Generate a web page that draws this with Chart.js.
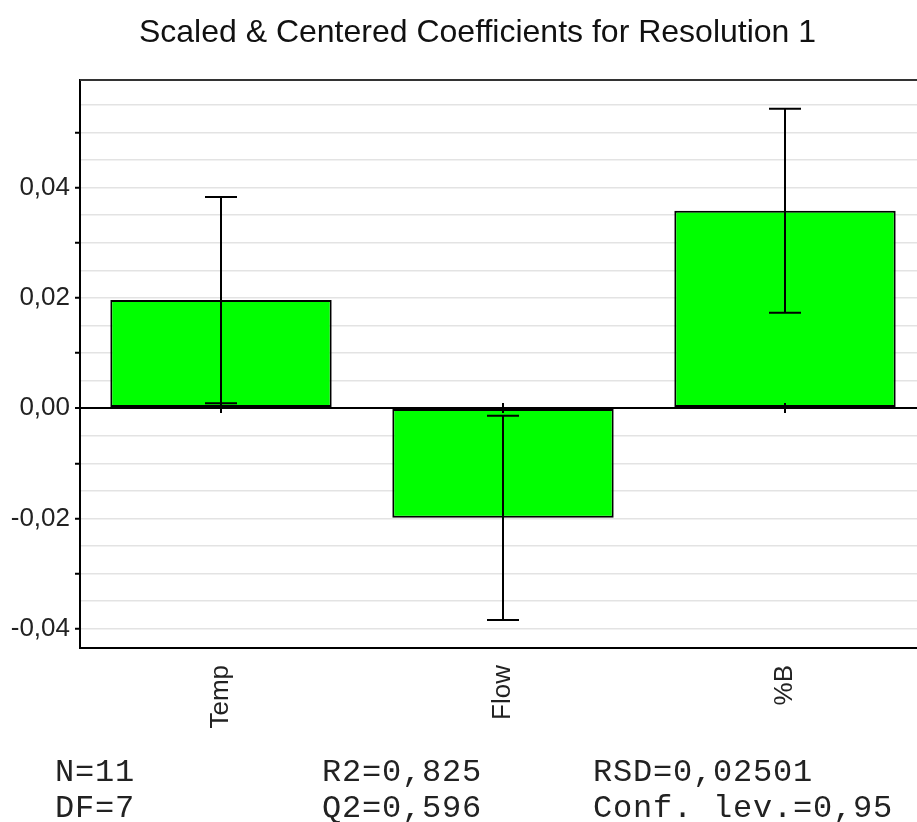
<!DOCTYPE html>
<html>
<head>
<meta charset="utf-8">
<script src="https://cdn.jsdelivr.net/npm/chart.js@4/dist/chart.umd.min.js"></script>
<style>
  html, body { margin: 0; padding: 0; background: #fff; overflow: hidden; }
  #wrap { width: 926px; height: 822px; }
</style>
</head>
<body>
<div id="wrap"><canvas id="chart" width="926" height="822"></canvas></div>
<script>
const factors = ["Temp", "Flow", "%B"];
const coefficients = [0.0196, -0.0199, 0.0358];
const confInt = [0.0187, 0.0185, 0.0185];

const yMin = -0.0435, yMax = 0.0595;

const statsRow1 = ["N=11", "R2=0,825", "RSD=0,02501"];
const statsRow2 = ["DF=7", "Q2=0,596", "Conf. lev.=0,95"];

function isStep(v, step) {
  const r = Math.round(v * 10000) / (step * 10000);
  return Math.abs(r - Math.round(r)) < 1e-6;
}

function fmt(v) {
  if (Math.abs(v) < 1e-9) v = 0;
  return v.toFixed(2).replace(".", ",");
}

// error bars + little ticks on the zero line
const errorBars = {
  id: "errorBars",
  beforeDraw(chart) {
    // the title is centred a bit right of the canvas middle
    if (chart.titleBlock) chart.titleBlock.left = 29;
  },
  afterDatasetsDraw(chart) {
    const ctx = chart.ctx;
    const y = chart.scales.y;
    const meta = chart.getDatasetMeta(0);
    const zero = y.getPixelForValue(0);
    ctx.save();
    ctx.strokeStyle = "#000";
    ctx.lineWidth = 2;
    meta.data.forEach((bar, i) => {
      const top = y.getPixelForValue(coefficients[i] + confInt[i]);
      const bot = y.getPixelForValue(coefficients[i] - confInt[i]);
      ctx.beginPath();
      ctx.moveTo(bar.x, top);
      ctx.lineTo(bar.x, bot);
      ctx.moveTo(bar.x - 16, top);
      ctx.lineTo(bar.x + 16, top);
      ctx.moveTo(bar.x - 16, bot);
      ctx.lineTo(bar.x + 16, bot);
      ctx.moveTo(bar.x, zero - 5);
      ctx.lineTo(bar.x, zero + 5);
      ctx.stroke();
    });
    ctx.restore();
  },
  afterDraw(chart) {
    const ctx = chart.ctx;
    const a = chart.chartArea;
    ctx.save();
    // top frame line
    ctx.strokeStyle = "#333";
    ctx.lineWidth = 2;
    ctx.beginPath();
    ctx.moveTo(a.left, a.top);
    ctx.lineTo(a.right, a.top);
    ctx.stroke();

    // stats footer
    ctx.fillStyle = "#222";
    ctx.font = "32px 'Courier New', 'Liberation Mono', monospace";
    ctx.letterSpacing = "0.8px";
    ctx.textBaseline = "alphabetic";
    const cols = [55, 322, 593];
    statsRow1.forEach((t, i) => ctx.fillText(t, cols[i], 781));
    statsRow2.forEach((t, i) => ctx.fillText(t, cols[i], 817));
    ctx.restore();
  }
};

new Chart(document.getElementById("chart"), {
  type: "bar",
  data: {
    labels: factors,
    datasets: [{
      data: coefficients,
      backgroundColor: "#00ff00",
      borderColor: "#000",
      borderWidth: 2,
      borderSkipped: false,
      categoryPercentage: 1,
      barPercentage: 0.785
    }]
  },
  options: {
    responsive: false,
    animation: false,
    layout: { padding: { left: 0, right: 0, top: 0, bottom: 0 } },
    plugins: {
      legend: { display: false },
      tooltip: { enabled: false },
      title: {
        display: true,
        text: "Scaled & Centered Coefficients for Resolution 1",
        color: "#111",
        font: { family: "'Liberation Sans', Arial, sans-serif", size: 32, weight: "normal" },
        padding: { top: 14, bottom: 27.6 }
      }
    },
    scales: {
      x: {
        grid: { display: false, drawTicks: false },
        border: { display: true, color: "#000", width: 2 },
        ticks: {
          minRotation: 90,
          maxRotation: 90,
          padding: 17,
          color: "#222",
          font: { family: "'Liberation Sans', Arial, sans-serif", size: 26 }
        },
        afterFit(scale) { scale.height = 174; }
      },
      y: {
        min: yMin,
        max: yMax,
        border: { display: true, color: "#000", width: 2 },
        grid: {
          color: c => (c.tick && Math.abs(c.tick.value) < 1e-9 ? "#000" : "#e3e3e3"),
          lineWidth: c => (c.tick && Math.abs(c.tick.value) < 1e-9 ? 2 : 1.5),
          tickColor: c => (c.tick && isStep(c.tick.value, 0.01) ? "#000" : "rgba(0,0,0,0)"),
          tickWidth: 2,
          tickLength: 5
        },
        afterBuildTicks(scale) {
          const ticks = [];
          for (let k = -8; k <= 11; k++) ticks.push({ value: k * 0.005 });
          scale.ticks = ticks;
        },
        ticks: {
          autoSkip: false,
          padding: 5,
          color: "#222",
          font: { family: "'Liberation Sans', Arial, sans-serif", size: 26 },
          callback: v => (isStep(v, 0.02) ? fmt(v) : "")
        },
        afterFit(scale) { scale.width = 80; }
      }
    }
  },
  plugins: [errorBars]
});
</script>
</body>
</html>
